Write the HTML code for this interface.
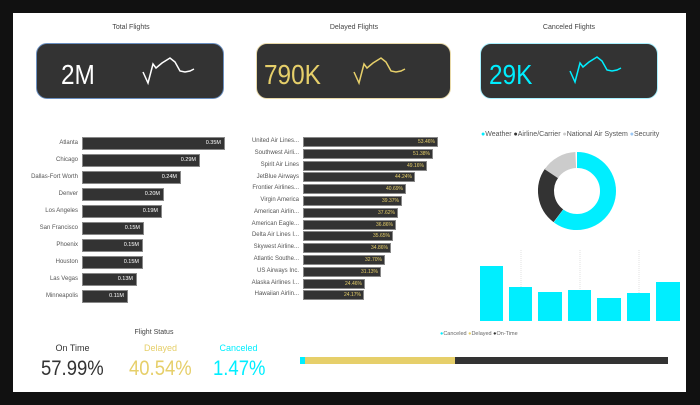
<!DOCTYPE html>
<html><head><style>
body{margin:0;width:700px;height:405px;background:#111;font-family:"Liberation Sans",sans-serif;position:relative;overflow:hidden}
.p{position:absolute;left:13px;top:13px;width:673px;height:379px;background:#fff}
.a{position:absolute}
.t{font-size:7px;color:#444;text-align:center}
.card{position:absolute;top:43px;height:56px;background:#333;border-radius:11px;border:1px solid #6a8fc0;box-sizing:border-box}
.big{position:absolute;font-size:28px;line-height:28px;transform:scaleX(0.87);transform-origin:0 0}
.lb{font-size:6px;color:#555;text-align:right;width:70px}
.bar{background:#333;border:1px solid #888;box-sizing:border-box;color:#fff;font-size:5.5px;text-align:right;padding-right:3px}
.ab{background:#333;border:1px solid #888;box-sizing:border-box;color:#e6cf6a;font-size:5px;text-align:right;padding-right:2px;height:10px;line-height:8px}
.cb{position:absolute;background:#00eeff;bottom:84px}
.num{position:absolute;top:357px;font-size:21px;line-height:24px;transform:scaleX(0.88);transform-origin:0 0}
.sl{position:absolute;top:343px;width:65px;text-align:center;font-size:9px}
</style></head><body>
<div class="p"></div>
<div class="a t" style="left:37px;top:24px;width:188px">Total Flights</div>
<div class="a t" style="left:256px;top:24px;width:196px">Delayed Flights</div>
<div class="a t" style="left:480px;top:24px;width:178px">Canceled Flights</div>
<div class="card" style="left:36px;width:188px"></div>
<div class="card" style="left:256px;width:195px;border-color:#e8d9a8"></div>
<div class="card" style="left:480px;width:178px;border-color:#a8f0ff"></div>
<div class="big" style="left:61px;top:61px;color:#fff">2M</div>
<div class="big" style="left:264px;top:61px;color:#e6cf6a">790K</div>
<div class="big" style="left:489px;top:61px;color:#00eeff">29K</div>
<svg class="a" style="left:0;top:0" width="700" height="405" fill="none" stroke-width="1.5">
<polyline stroke="#fff" points="143,72 148,83 153,64 156,68 162,63 170,58 175,62 180,71 185,72 190,71 194,69"/>
<polyline stroke="#e6cf6a" points="143,72 148,83 153,64 156,68 162,63 170,58 175,62 180,71 185,72 190,71 194,69" transform="translate(211,0)"/>
<polyline stroke="#00eeff" points="143,72 148,83 153,64 156,68 162,63 170,58 175,62 180,71 185,72 190,71 194,69" transform="translate(427,-1)"/>
<g transform="translate(577,191)" stroke-width="16">
<circle r="31" stroke="#00eeff" stroke-dasharray="117 200" transform="rotate(-90)"/>
<circle r="31" stroke="#333" stroke-dasharray="48 200" transform="rotate(127)"/>
<circle r="31" stroke="#ccc" stroke-dasharray="29 200" transform="rotate(214)"/>
</g>
<g stroke="#ccc" stroke-width="0.6" stroke-dasharray="1 1"><line x1="521" y1="250" x2="521" y2="320"/><line x1="580" y1="250" x2="580" y2="320"/><line x1="639" y1="250" x2="639" y2="320"/></g>
</svg>
<div class="a" style="left:481px;top:131px;font-size:7px;color:#555;white-space:nowrap"><span style="color:#00eeff">●</span>Weather <span style="color:#333">●</span>Airline/Carrier <span style="color:#ccc">●</span>National Air System <span style="color:#9cc8f5">●</span>Security</div>
<div class="a" style="left:8px;top:137px">
<div style="position:relative">
<div class="a lb" style="top:3px">Atlanta</div><div class="a bar" style="left:74px;top:0;width:143px;height:13px;line-height:11px">0.35M</div>
<div class="a lb" style="top:20px">Chicago</div><div class="a bar" style="left:74px;top:17px;width:118px;height:13px;line-height:11px">0.29M</div>
<div class="a lb" style="top:37px">Dallas-Fort Worth</div><div class="a bar" style="left:74px;top:34px;width:99px;height:13px;line-height:11px">0.24M</div>
<div class="a lb" style="top:54px">Denver</div><div class="a bar" style="left:74px;top:51px;width:82px;height:13px;line-height:11px">0.20M</div>
<div class="a lb" style="top:71px">Los Angeles</div><div class="a bar" style="left:74px;top:68px;width:80px;height:13px;line-height:11px">0.19M</div>
<div class="a lb" style="top:88px">San Francisco</div><div class="a bar" style="left:74px;top:85px;width:62px;height:13px;line-height:11px">0.15M</div>
<div class="a lb" style="top:105px">Phoenix</div><div class="a bar" style="left:74px;top:102px;width:61px;height:13px;line-height:11px">0.15M</div>
<div class="a lb" style="top:122px">Houston</div><div class="a bar" style="left:74px;top:119px;width:61px;height:13px;line-height:11px">0.15M</div>
<div class="a lb" style="top:139px">Las Vegas</div><div class="a bar" style="left:74px;top:136px;width:55px;height:13px;line-height:11px">0.13M</div>
<div class="a lb" style="top:156px">Minneapolis</div><div class="a bar" style="left:74px;top:153px;width:46px;height:13px;line-height:11px">0.11M</div>
</div></div>
<div class="a" style="left:229px;top:137px;font-size:5.5px">
<div style="position:relative">
<div class="a lb" style="top:1px">United Air Lines...</div><div class="a ab" style="left:74px;top:0;width:135px">53.46%</div>
<div class="a lb" style="top:13px">Southwest Airli...</div><div class="a ab" style="left:74px;top:11.8px;width:130px">51.38%</div>
<div class="a lb" style="top:25px">Spirit Air Lines</div><div class="a ab" style="left:74px;top:23.6px;width:124px">49.16%</div>
<div class="a lb" style="top:37px">JetBlue Airways</div><div class="a ab" style="left:74px;top:35.4px;width:112px">44.24%</div>
<div class="a lb" style="top:48px">Frontier Airlines...</div><div class="a ab" style="left:74px;top:47.2px;width:103px">40.69%</div>
<div class="a lb" style="top:60px">Virgin America</div><div class="a ab" style="left:74px;top:59px;width:99px">39.37%</div>
<div class="a lb" style="top:72px">American Airlin...</div><div class="a ab" style="left:74px;top:70.8px;width:95px">37.62%</div>
<div class="a lb" style="top:84px">American Eagle...</div><div class="a ab" style="left:74px;top:82.6px;width:93px">36.86%</div>
<div class="a lb" style="top:95px">Delta Air Lines I...</div><div class="a ab" style="left:74px;top:94.4px;width:90px">35.65%</div>
<div class="a lb" style="top:107px">Skywest Airline...</div><div class="a ab" style="left:74px;top:106.2px;width:88px">34.86%</div>
<div class="a lb" style="top:119px">Atlantic Southe...</div><div class="a ab" style="left:74px;top:118px;width:82px">32.70%</div>
<div class="a lb" style="top:131px">US Airways Inc.</div><div class="a ab" style="left:74px;top:129.8px;width:78px">31.13%</div>
<div class="a lb" style="top:143px">Alaska Airlines I...</div><div class="a ab" style="left:74px;top:141.6px;width:62px">24.46%</div>
<div class="a lb" style="top:154px">Hawaiian Airlin...</div><div class="a ab" style="left:74px;top:153.4px;width:61px">24.17%</div>
</div></div>
<div class="cb" style="left:480px;width:23px;height:55px"></div>
<div class="cb" style="left:509px;width:23px;height:34px"></div>
<div class="cb" style="left:538px;width:24px;height:29px"></div>
<div class="cb" style="left:568px;width:23px;height:31px"></div>
<div class="cb" style="left:597px;width:24px;height:23px"></div>
<div class="cb" style="left:627px;width:23px;height:28px"></div>
<div class="cb" style="left:656px;width:24px;height:39px"></div>
<div class="a t" style="left:119px;top:329px;width:70px">Flight Status</div>
<div class="sl" style="left:40px;color:#333">On Time</div>
<div class="sl" style="left:128px;color:#e6cf6a">Delayed</div>
<div class="sl" style="left:206px;color:#00eeff">Canceled</div>
<div class="num" style="left:41px;color:#333">57.99%</div>
<div class="num" style="left:129px;color:#e6cf6a">40.54%</div>
<div class="num" style="left:213px;color:#00eeff">1.47%</div>
<div class="a" style="left:440px;top:331px;font-size:5.5px;color:#666;white-space:nowrap"><span style="color:#00eeff">●</span>Canceled <span style="color:#e6cf6a">●</span>Delayed <span style="color:#333">●</span>On-Time</div>
<div class="a" style="left:300px;top:357px;width:5px;height:7px;background:#00eeff"></div>
<div class="a" style="left:305px;top:357px;width:150px;height:7px;background:#e6cf6a"></div>
<div class="a" style="left:455px;top:357px;width:213px;height:7px;background:#333"></div>
</body></html>
